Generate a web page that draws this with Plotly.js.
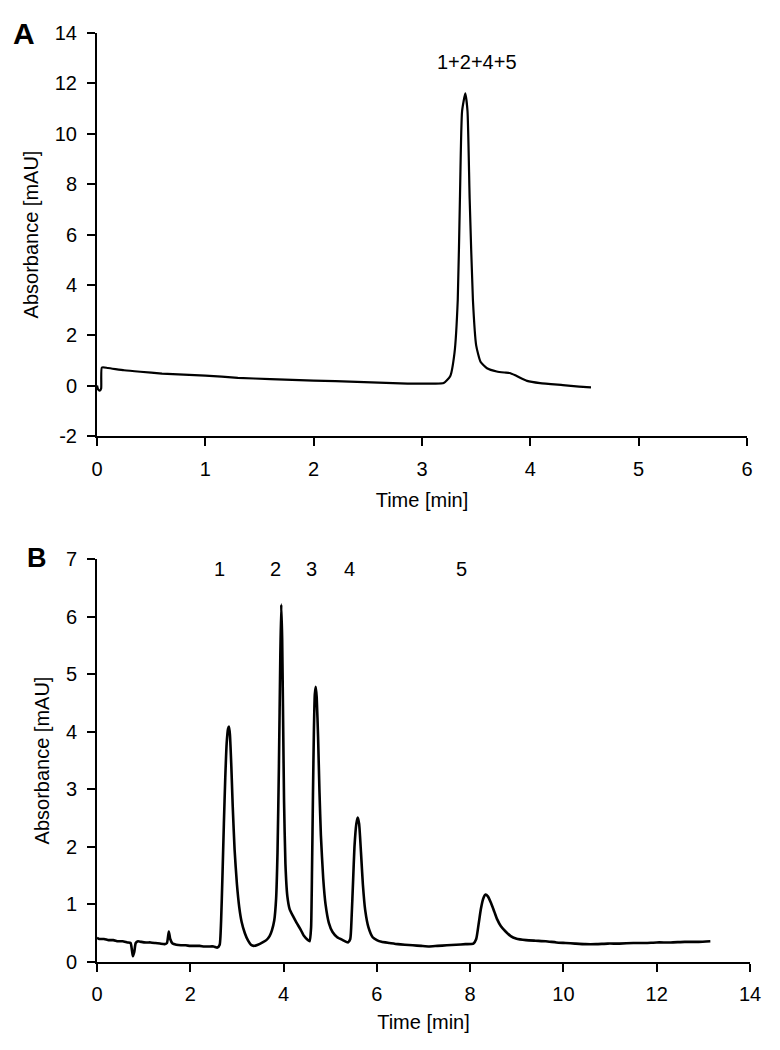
<!DOCTYPE html>
<html>
<head>
<meta charset="utf-8">
<script src="https://cdn.plot.ly/plotly-3.0.1.min.js"></script>
<style>html,body{margin:0;padding:0;background:#fff;}#chart{width:780px;height:1050px;}</style>
</head>
<body>
<div id="chart"></div>
<script>
// Panel A: chromatogram (time in min, absorbance in mAU)
const timeA = [0.000,0.010,0.025,0.038,0.045,0.10,0.25,0.40,0.60,0.80,1.00,1.30,1.60,2.00,2.40,2.80,3.10,
  3.20,3.26,3.30,3.33,3.35,3.37,3.40,3.42,3.44,3.47,3.50,3.54,3.60,3.69,3.76,3.81,3.87,3.97,4.09,4.30,4.45,4.56];
const absA = [0.00,-0.15,-0.20,-0.12,0.72,0.70,0.61,0.55,0.48,0.44,0.40,0.31,0.26,0.20,0.15,0.09,0.08,
  0.10,0.37,1.3,3.4,7.4,10.9,11.6,10.9,7.4,3.4,1.6,0.95,0.69,0.56,0.52,0.50,0.39,0.19,0.10,0.02,-0.04,-0.07];

// Panel B: chromatogram (time in min, absorbance in mAU)
const timeB = [0.00,0.05,0.15,0.25,0.35,0.45,0.55,0.65,0.72,0.75,0.77,0.80,0.83,0.88,0.95,1.05,1.15,1.25,1.35,1.45,
  1.50,1.54,1.57,1.62,1.70,1.80,1.90,2.00,2.10,2.20,2.30,2.40,2.50,2.58,2.63,2.66,2.69,2.72,2.75,2.78,
  2.81,2.83,2.85,2.88,2.91,2.95,3.00,3.05,3.10,3.17,3.24,3.30,3.36,3.45,3.55,3.63,3.70,3.75,3.80,3.84,
  3.87,3.90,3.93,3.95,3.97,3.99,4.01,4.04,4.08,4.13,4.20,4.28,4.36,4.44,4.52,4.56,4.59,4.61,4.63,4.65,
  4.67,4.69,4.71,4.74,4.77,4.80,4.85,4.90,4.97,5.05,5.15,5.27,5.38,5.43,5.46,5.49,5.52,5.56,5.59,5.62,
  5.66,5.70,5.75,5.82,5.91,6.00,6.10,6.27,6.45,6.60,6.77,6.95,7.12,7.30,7.50,7.70,7.90,8.07,8.13,8.18,
  8.23,8.28,8.33,8.38,8.45,8.52,8.58,8.66,8.76,8.87,8.98,9.20,9.40,9.62,9.85,10.05,10.25,10.47,10.70,10.95,
  11.20,11.50,11.76,12.00,12.30,12.60,12.90,13.15];
const absB = [0.42,0.40,0.40,0.38,0.38,0.36,0.36,0.34,0.33,0.20,0.10,0.18,0.33,0.36,0.35,0.34,0.34,0.33,0.32,0.31,
  0.33,0.53,0.40,0.32,0.30,0.29,0.29,0.28,0.28,0.28,0.27,0.27,0.27,0.25,0.30,0.70,1.50,2.40,3.20,3.80,
  4.05,4.09,3.95,3.40,2.70,1.95,1.35,0.95,0.70,0.50,0.37,0.30,0.28,0.30,0.34,0.38,0.45,0.55,0.72,1.10,
  1.90,3.40,5.30,6.21,5.60,4.20,2.80,1.70,1.15,0.92,0.80,0.68,0.57,0.45,0.38,0.36,0.60,1.60,2.90,4.00,
  4.65,4.78,4.60,3.90,2.95,2.20,1.45,1.00,0.68,0.52,0.43,0.38,0.34,0.40,0.80,1.40,2.00,2.40,2.51,2.40,
  1.90,1.35,0.90,0.60,0.43,0.38,0.35,0.33,0.31,0.30,0.29,0.28,0.27,0.28,0.29,0.30,0.31,0.32,0.40,0.65,
  0.92,1.10,1.17,1.14,1.02,0.87,0.74,0.62,0.53,0.45,0.41,0.38,0.37,0.36,0.34,0.33,0.32,0.31,0.31,0.32,
  0.32,0.33,0.33,0.34,0.34,0.35,0.35,0.36];

// Peak labels
const peakLabelA = "1+2+4+5";
const peakLabelATime = 3.51;
const peakLabelAValue = 12.86;
const peakLabelsB = ["1","2","3","4","5"];
const peakLabelTimesB = [2.63,3.83,4.59,5.41,7.82];
const peakLabelValueB = 6.83;

// Axis tick values and labels
const xTicksA = [0,1,2,3,4,5,6];
const yTicksA = [-2,0,2,4,6,8,10,12,14];
const yTickTextA = ["-2","0","2","4","6","8","10","12","14"];
const xTicksB = [0,2,4,6,8,10,12,14];
const yTicksB = [0,1,2,3,4,5,6,7];

const W = 780, H = 1050;
const FONT = "Liberation Sans, Arial, sans-serif";
const px = v => v / W;
const py = v => 1 - v / H;

const traces = [
  {x: timeA, y: absA, type: 'scatter', mode: 'lines', line: {color: '#000', width: 2.2, shape: 'spline', smoothing: 0.5}, xaxis: 'x', yaxis: 'y', hoverinfo: 'x+y'},
  {x: timeB, y: absB, type: 'scatter', mode: 'lines', line: {color: '#000', width: 2.6, shape: 'spline', smoothing: 0.5}, xaxis: 'x2', yaxis: 'y2', hoverinfo: 'x+y'}
];

const axCommon = {
  showline: true, linecolor: '#000', linewidth: 2,
  ticks: 'outside', ticklen: 8, tickwidth: 2, tickcolor: '#000',
  showgrid: false, zeroline: false,
  tickfont: {family: FONT, size: 20, color: '#000'},
  fixedrange: true
};

const annotations = [
  {text: '<b>A</b>', xref: 'paper', yref: 'paper', x: px(24), y: py(33), showarrow: false, font: {family: FONT, size: 30, color: '#000'}, xanchor: 'center', yanchor: 'middle'},
  {text: '<b>B</b>', xref: 'paper', yref: 'paper', x: px(37), y: py(558), showarrow: false, font: {family: FONT, size: 27, color: '#000'}, xanchor: 'center', yanchor: 'middle'},
  {text: peakLabelA, xref: 'x', yref: 'y', x: peakLabelATime, y: peakLabelAValue, showarrow: false, font: {family: FONT, size: 20, color: '#000'}}
];
peakLabelsB.forEach((t, i) => annotations.push({
  text: t, xref: 'x2', yref: 'y2', x: peakLabelTimesB[i], y: peakLabelValueB, showarrow: false,
  font: {family: FONT, size: 20, color: '#000'}
}));

const layout = {
  width: W, height: H,
  margin: {l: 0, r: 0, t: 0, b: 0},
  paper_bgcolor: '#fff', plot_bgcolor: '#fff',
  showlegend: false,
  font: {family: FONT, color: '#000'},
  xaxis: Object.assign({}, axCommon, {
    domain: [px(97), px(747)], range: [0, 6], tickvals: xTicksA, anchor: 'y',
    ticklabelstandoff: 6,
    title: {text: 'Time [min]', font: {family: FONT, size: 20, color: '#000'}, standoff: 14}
  }),
  yaxis: Object.assign({}, axCommon, {
    domain: [py(436), py(33)], range: [-2, 14], tickvals: yTicksA, ticktext: yTickTextA, anchor: 'x',
    ticklabelstandoff: 6,
    title: {text: 'Absorbance [mAU]', font: {family: FONT, size: 20, color: '#000'}, standoff: 11}
  }),
  xaxis2: Object.assign({}, axCommon, {
    domain: [px(97), px(750)], range: [0, 14], tickvals: xTicksB, anchor: 'y2',
    ticklabelstandoff: 5,
    title: {text: 'Time [min]', font: {family: FONT, size: 20, color: '#000'}, standoff: 11}
  }),
  yaxis2: Object.assign({}, axCommon, {
    domain: [py(962), py(559)], range: [0, 7], tickvals: yTicksB, anchor: 'x2',
    ticklabelstandoff: 6,
    title: {text: 'Absorbance [mAU]', font: {family: FONT, size: 20, color: '#000'}, standoff: 11}
  }),
  annotations: annotations
};

Plotly.newPlot('chart', traces, layout, {displayModeBar: false, staticPlot: false, responsive: false});
</script>
</body>
</html>
